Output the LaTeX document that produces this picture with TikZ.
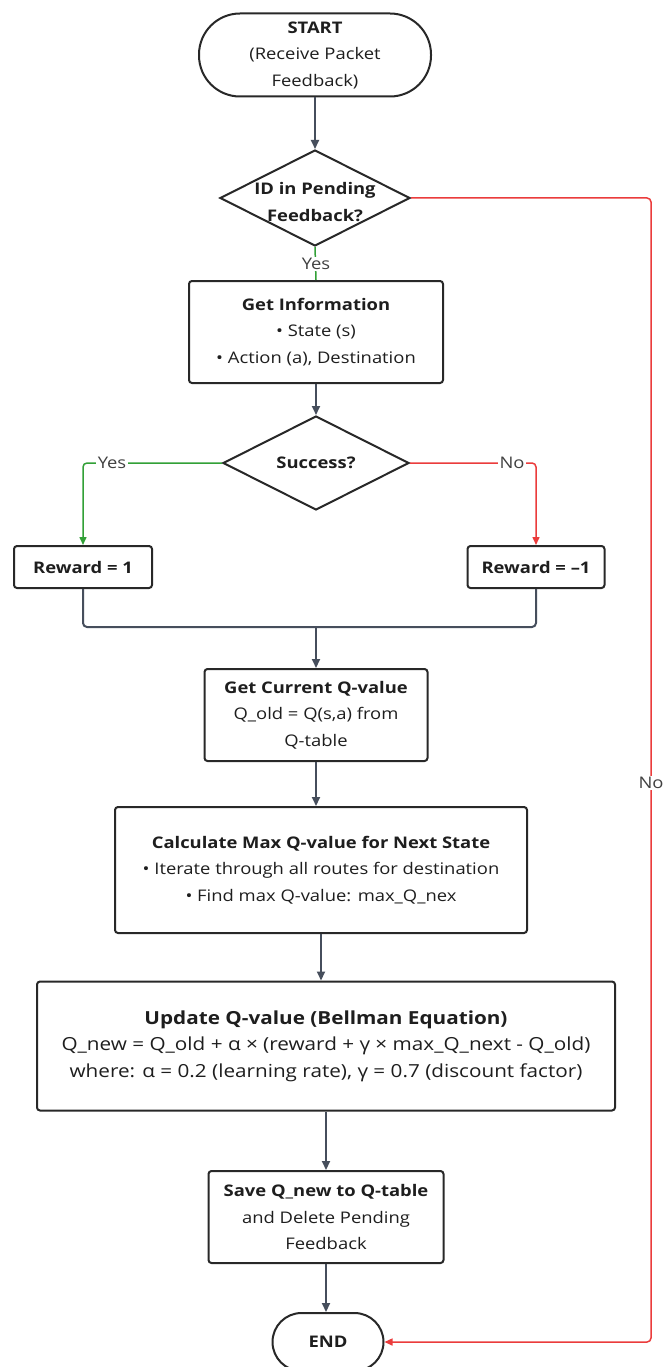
\documentclass[tikz,border=0pt]{standalone}
\usepackage{fontspec}
\setmainfont{Open Sans}[FakeStretch=1.15]
\usetikzlibrary{arrows.meta,shapes.geometric}
\definecolor{ln}{RGB}{70,78,92}
\definecolor{bd}{RGB}{40,40,40}
\definecolor{gr}{RGB}{50,160,55}
\definecolor{rd}{RGB}{235,60,60}
\definecolor{tx}{RGB}{30,30,30}
\begin{document}
\begin{tikzpicture}[x=1pt,y=-1pt,
  every node/.style={text=tx, font=\fontsize{16}{26.5}\selectfont},
  box/.style={draw=bd, line width=2pt, rounded corners=3pt, align=center, inner sep=0pt, fill=white},
  term/.style={draw=bd, line width=2pt, align=center, inner sep=0pt, fill=white},
  dia/.style={draw=bd, line width=2pt, diamond, inner sep=0pt, fill=white},
  btext/.style={align=center, inner sep=0pt},
  flow/.style={draw=ln, line width=2pt, -{Triangle[length=9pt,width=8pt]}},
  plain/.style={draw=ln, line width=2pt, rounded corners=4pt},
  gflow/.style={draw=gr, line width=1.5pt, rounded corners=4pt, -{Triangle[length=8pt,width=7pt]}},
  gline/.style={draw=gr, line width=1.5pt},
  rflow/.style={draw=rd, line width=1.5pt, rounded corners=4pt, -{Triangle[length=8pt,width=7pt]}},
  lab/.style={fill=white, inner sep=1.5pt, text=tx!85}
]
\useasboundingbox[fill=white] (0,0) rectangle (662,1367);

% nodes
\node[term, rounded corners=41pt, minimum width=232pt, minimum height=83pt] (start) at (315,55)
  {\textbf{START}\\(Receive Packet\\Feedback)};
\node[dia, minimum width=190pt, minimum height=96pt] (d1) at (315,198) {};
\node[btext] (d1t) at (315,202) {\textbf{ID in Pending}\\\textbf{Feedback?}};
\node[box, minimum width=254pt, minimum height=102pt] (info) at (316,332)
  {\textbf{Get Information}\\• State (s)\\• Action (a), Destination};
\node[dia, minimum width=186pt, minimum height=94pt] (d2) at (316,463) {};
\node[btext] (d2t) at (316,463) {\textbf{Success?}};
\node[box, minimum width=138pt, minimum height=42pt] (r1) at (83,567) {\textbf{Reward = 1}};
\node[box, minimum width=137pt, minimum height=42pt] (r2) at (536,567) {\textbf{Reward = –1}};
\coordinate (m) at (316,627);
\node[box, minimum width=223pt, minimum height=92pt] (cur) at (316,715)
  {\textbf{Get Current Q-value}\\Q\_old = Q(s,a) from\\Q-table};
\node[box, minimum width=412pt, minimum height=126pt] (calc) at (321,870)
  {\textbf{Calculate Max Q-value for Next State}\\• Iterate through all routes for destination\\• Find max Q-value: max\_Q\_nex};
\node[box, minimum width=578pt, minimum height=129pt, font=\fontsize{18}{26.5}\selectfont] (upd) at (326,1046)
  {\textbf{Update Q-value (Bellman Equation)}\\Q\_new = Q\_old + α × (reward + γ × max\_Q\_next - Q\_old)\\where: α = 0.2 (learning rate), γ = 0.7 (discount factor)};
\node[box, minimum width=235pt, minimum height=92pt] (save) at (326,1217)
  {\textbf{Save Q\_new to Q-table}\\and Delete Pending\\Feedback};
\node[term, rounded corners=29pt, minimum width=111pt, minimum height=58pt] (end) at (328,1342) {\textbf{END}};

% connectors
\draw[flow] (start) -- (d1);
\draw[gline] (d1.south) -- (info.north);
\node[lab] (y1) at (316,264) {Yes};
\draw[flow] (info) -- (d2);
\draw[gflow] (d2.west) -| (r1.north);
\node[lab] (y2) at (112,463) {Yes};
\draw[rflow] (d2.east) -| (r2.north);
\node[lab] (n2) at (512,463) {No};
\draw[plain] (r1.south) -- (r1.south |- m) -- (r2.south |- m) -- (r2.south);
\draw[flow] (m) -- (cur.north);
\draw[flow] (cur.south) -- (cur.south |- calc.north);
\draw[flow] (calc.south) -- (calc.south |- upd.north);
\draw[flow] (upd.south) -- (upd.south |- save.north);
\draw[flow] (save.south) -- (save.south |- end.north);
\coordinate (c1) at (651,198);
\coordinate (c2) at (651,1342);
\draw[rflow] (d1.east) -- (c1) -- (c2) -- (end.east);
\node[lab] (n1) at (651,783) {No};
\end{tikzpicture}
\end{document}
